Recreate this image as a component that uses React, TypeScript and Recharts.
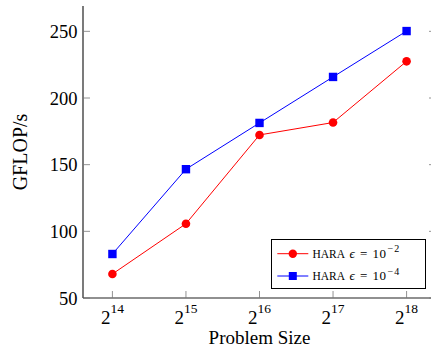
import React from 'react';
import { LineChart, Line, XAxis, YAxis, Legend } from 'recharts';

const sizes = [14, 15, 16, 17, 18];
const sizeExponents = ['14', '15', '16', '17', '18'];
const haraE2 = [68, 105.7, 172.3, 181.6, 227.5];
const haraE4 = [83, 146.6, 181.3, 215.8, 250.2];
const yTicks = [50, 100, 150, 200, 250];
const legendExponents = ['−2', '−4'];

const data = sizes.map((s, i) => ({ size: s, e2: haraE2[i], e4: haraE4[i] }));

const FONT = '"Liberation Serif", "DejaVu Serif", serif';
const TICK_COLOR = '#777';

const BottomTick = (props: any) => {
  const { x, y, payload } = props;
  const i = sizes.indexOf(payload.value);
  return (
    <g>
      <line x1={x} x2={x} y1={y} y2={y - 7} stroke={TICK_COLOR} strokeWidth={0.8} />
      <text x={x} y={y + 25.5} textAnchor="middle" style={{ fontFamily: FONT, fontSize: 19 }} fill="#000">
        <tspan>2</tspan>
        <tspan dy={-11} style={{ fontSize: 13.5 }}>{sizeExponents[i]}</tspan>
      </text>
    </g>
  );
};

const TopTick = (props: any) => {
  const { x, y } = props;
  return <line x1={x} x2={x} y1={y} y2={y + 7} stroke={TICK_COLOR} strokeWidth={0.8} />;
};

const LeftTick = (props: any) => {
  const { x, y, payload } = props;
  return (
    <g>
      <line x1={x} x2={x + 7} y1={y} y2={y} stroke={TICK_COLOR} strokeWidth={0.8} />
      <text x={x - 5.5} y={y + 6.5} textAnchor="end" style={{ fontFamily: FONT, fontSize: 18.5 }} fill="#000">
        {payload.value}
      </text>
    </g>
  );
};

const RightTick = (props: any) => {
  const { x, y } = props;
  return <line x1={x} x2={x - 7} y1={y} y2={y} stroke={TICK_COLOR} strokeWidth={0.8} />;
};

const SquareDot = (props: any) => {
  const { cx, cy, index } = props;
  if (cx == null || cy == null) return <g key={index} />;
  return <rect key={index} x={cx - 4.2} y={cy - 4.2} width={8.4} height={8.4} fill="#0000ff" />;
};

const CircleDot = (props: any) => {
  const { cx, cy, index } = props;
  if (cx == null || cy == null) return <g key={index} />;
  return <circle key={index} cx={cx} cy={cy} r={4.3} fill="#ff0000" />;
};

const legendSeries = [
  { color: '#ff0000', shape: 'circle' },
  { color: '#0000ff', shape: 'square' },
];

const LegendContent = () => (
  <div
    style={{
      width: 153,
      height: 48,
      border: '1px solid #000',
      background: '#fff',
    }}
  >
    <svg width={153} height={48} style={{ display: 'block' }}>
      {legendSeries.map((s, i) => {
        const cy = 13.7 + i * 22.3;
        const yb = cy + 4.2;
        return (
          <g key={i} style={{ fontFamily: FONT }} fill="#000">
            <line x1={5.3} x2={36.3} y1={cy} y2={cy} stroke={s.color} strokeWidth={1} />
            {s.shape === 'circle' ? (
              <circle cx={20.8} cy={cy} r={4.2} fill={s.color} />
            ) : (
              <rect x={16.8} y={cy - 4} width={8} height={8} fill={s.color} />
            )}
            <text x={40.5} y={yb} style={{ fontSize: 11.5 }}>HARA</text>
            <text x={77.5} y={yb} style={{ fontSize: 13, fontStyle: 'italic' }}>ϵ</text>
            <text x={88} y={yb} style={{ fontSize: 13 }}>=</text>
            <text x={100.5} y={yb} style={{ fontSize: 13, letterSpacing: 0.5 }}>10</text>
            <text x={115.5} y={yb - 5.5} style={{ fontSize: 10, letterSpacing: 1 }}>{legendExponents[i]}</text>
          </g>
        );
      })}
    </svg>
  </div>
);

export default function App() {
  return (
    <div style={{ position: 'fixed', left: 0, top: 0, width: 431, height: 351, overflow: 'hidden', background: '#fff' }}>
      <LineChart
        width={445}
        height={351}
        data={data}
        margin={{ top: 6, right: 0, bottom: 0, left: 0 }}
      >
        <XAxis
          dataKey="size"
          type="number"
          domain={[13.6, 18.4]}
          ticks={sizes}
          allowDataOverflow
          height={53}
          tickSize={0}
          tickMargin={0}
          tickLine={false}
          stroke="#000"
          axisLine={{ stroke: '#222', strokeWidth: 1.2 }}
          tick={BottomTick}
          interval={0}
          label={{
            content: (p: any) => {
              const vb = p.viewBox || { x: 83, width: 353, y: 298 };
              return (
                <text x={vb.x + vb.width / 2} y={344} textAnchor="middle" style={{ fontFamily: FONT, fontSize: 19 }} fill="#000">
                  Problem Size
                </text>
              );
            },
          }}
        />
        <XAxis
          xAxisId="top"
          dataKey="size"
          type="number"
          orientation="top"
          domain={[13.6, 18.4]}
          ticks={sizes}
          allowDataOverflow
          height={0}
          tickSize={0}
          tickMargin={0}
          tickLine={false}
          axisLine={{ stroke: '#222', strokeWidth: 1.2 }}
          tick={TopTick}
          interval={0}
        />
        <YAxis
          type="number"
          domain={[50, 269]}
          ticks={yTicks}
          allowDataOverflow
          width={83}
          tickSize={0}
          tickMargin={0}
          tickLine={false}
          axisLine={{ stroke: '#222', strokeWidth: 1.2 }}
          tick={LeftTick}
          interval={0}
          label={{
            content: (p: any) => {
              const vb = p.viewBox || { y: 6, height: 292 };
              const cy = vb.y + vb.height / 2;
              return (
                <text
                  x={0}
                  y={0}
                  transform={`translate(27, ${cy}) rotate(-90)`}
                  textAnchor="middle"
                  style={{ fontFamily: FONT, fontSize: 20 }}
                  fill="#000"
                >
                  GFLOP/s
                </text>
              );
            },
          }}
        />
        <YAxis
          yAxisId="right"
          orientation="right"
          type="number"
          domain={[50, 269]}
          ticks={yTicks}
          allowDataOverflow
          width={9}
          tickSize={0}
          tickMargin={0}
          tickLine={false}
          axisLine={{ stroke: '#222', strokeWidth: 1.2 }}
          tick={RightTick}
          interval={0}
        />
        <Legend
          layout="horizontal"
          verticalAlign="middle"
          align="center"
          wrapperStyle={{ position: 'absolute', left: 271, top: 239, width: 'auto', margin: 0 }}
          content={LegendContent}
        />
        <Line
          dataKey="e2"
          name="HARA e=1e-2"
          stroke="#ff0000"
          strokeWidth={1}
          dot={CircleDot}
          activeDot={false}
          isAnimationActive={false}
        />
        <Line
          dataKey="e4"
          name="HARA e=1e-4"
          stroke="#0000ff"
          strokeWidth={1}
          dot={SquareDot}
          activeDot={false}
          isAnimationActive={false}
        />
      </LineChart>
    </div>
  );
}
